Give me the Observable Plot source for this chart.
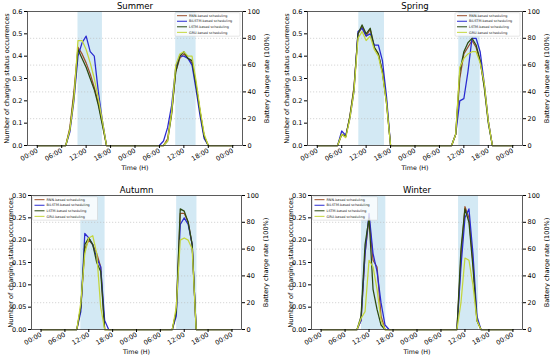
<!DOCTYPE html>
<html><head><meta charset="utf-8">
<script src="https://cdn.jsdelivr.net/npm/d3@7"></script>
<script src="https://cdn.jsdelivr.net/npm/@observablehq/plot@0.6"></script>
<style>
body{margin:0;background:#fff;}
#root{position:relative;width:550px;height:358px;overflow:hidden;font-family:"DejaVu Sans",sans-serif;}
.panel{position:absolute;width:275px;height:179px;}
</style></head><body><div id="root"></div>
<script>
const models = ["RNN-based scheduling","BiLSTM-based scheduling","LSTM-based scheduling","GRU-based scheduling"];
const colors = ["#9c4f2c","#2a2ad0","#2c4a10","#c4d63c"];
const hours = [0,1,2,3,4,5,6,7,8,9,10,11,12,13,14,15,16,17,18,19,20,21,22,23,24,25,26,27,28,29,30,31,32,33,34,35,36,37,38,39,40,41,42,43,44,45,46,47,48];
const xTicks = [0,6,12,18,24,30,36,42,48];
const xTickLabels = ["00:00","06:00","12:00","18:00","00:00","06:00","12:00","18:00","00:00"];
const rightTickLabels = [0,20,40,60,80,100];
const ticksSummerSpring = [0,0.1,0.2,0.3,0.4,0.5,0.6];
const ticksAutumnWinter = [0,0.05,0.1,0.15,0.2,0.25,0.3];

// Summer
const summerRNN    = [0,0,0,0,0,0,0,0, 0.08,0.24,0.44,0.41,0.37,0.32,0.26,0.19,0.10, 0,0,0,0,0,0,0,0,0,0,0,0,0,0,0, 0.03,0.15,0.33,0.39,0.41,0.39,0.37,0.27,0.15,0.04, 0,0,0,0,0,0,0];
const summerBiLSTM = [0,0,0,0,0,0,0,0, 0.06,0.20,0.40,0.46,0.49,0.42,0.40,0.24,0.11, 0,0,0,0,0,0,0,0,0,0,0,0,0,0, 0.02,0.08,0.18,0.35,0.40,0.40,0.39,0.36,0.25,0.13,0.03, 0,0,0,0,0,0,0];
const summerLSTM   = [0,0,0,0,0,0,0,0, 0.07,0.22,0.43,0.39,0.35,0.30,0.25,0.18,0.09, 0,0,0,0,0,0,0,0,0,0,0,0,0,0,0, 0.02,0.14,0.33,0.40,0.42,0.39,0.38,0.27,0.15,0.04, 0,0,0,0,0,0,0];
const summerGRU    = [0,0,0,0,0,0,0,0, 0.07,0.21,0.47,0.47,0.43,0.37,0.30,0.21,0.11, 0,0,0,0,0,0,0,0,0,0,0,0,0,0,0, 0.02,0.15,0.36,0.41,0.42,0.40,0.40,0.29,0.16,0.05, 0,0,0,0,0,0,0];
// Spring
const springRNN    = [0,0,0,0,0,0, 0.05,0.04,0.13,0.26,0.50,0.53,0.49,0.52,0.44,0.41,0.33,0.20, 0,0,0,0,0,0,0,0,0,0,0,0,0,0,0,0, 0.05,0.30,0.41,0.44,0.47,0.44,0.38,0.27,0.11, 0,0,0,0,0,0];
const springBiLSTM = [0,0,0,0,0,0, 0.065,0.045,0.12,0.24,0.51,0.525,0.49,0.50,0.45,0.45,0.38,0.22, 0,0,0,0,0,0,0,0,0,0,0,0,0,0,0,0, 0.05,0.20,0.21,0.33,0.48,0.48,0.42,0.28,0.11, 0,0,0,0,0,0];
const springLSTM   = [0,0,0,0,0,0, 0.05,0.04,0.13,0.25,0.50,0.54,0.50,0.525,0.44,0.41,0.33,0.19, 0,0,0,0,0,0,0,0,0,0,0,0,0,0,0,0, 0.05,0.33,0.42,0.46,0.48,0.45,0.38,0.26,0.10, 0,0,0,0,0,0];
const springGRU    = [0,0,0,0,0,0, 0.05,0.035,0.12,0.24,0.48,0.51,0.47,0.49,0.43,0.40,0.32,0.19, 0,0,0,0,0,0,0,0,0,0,0,0,0,0,0,0, 0.05,0.35,0.39,0.41,0.42,0.42,0.37,0.28,0.11, 0,0,0,0,0,0];
// Autumn
const autumnRNN    = [0,0,0,0,0,0,0,0,0,0, 0.05,0.18,0.20,0.19,0.17,0.14, 0,0,0,0,0,0,0,0,0,0,0,0,0,0,0,0,0,0, 0.04,0.26,0.26,0.24,0.19, 0,0,0,0,0,0,0,0,0,0];
const autumnBiLSTM = [0,0,0,0,0,0,0,0,0,0, 0.04,0.215,0.205,0.19,0.16,0.14,0.02, 0,0,0,0,0,0,0,0,0,0,0,0,0,0,0,0,0, 0.03,0.235,0.25,0.235,0.19, 0,0,0,0,0,0,0,0,0,0];
const autumnLSTM   = [0,0,0,0,0,0,0,0,0,0, 0.05,0.19,0.205,0.19,0.15,0.13, 0,0,0,0,0,0,0,0,0,0,0,0,0,0,0,0,0,0, 0.04,0.27,0.265,0.24,0.19, 0,0,0,0,0,0,0,0,0,0];
const autumnGRU    = [0,0,0,0,0,0,0,0,0,0, 0.06,0.17,0.205,0.21,0.17,0.05, 0,0,0,0,0,0,0,0,0,0,0,0,0,0,0,0,0,0, 0.05,0.20,0.205,0.20,0.18, 0,0,0,0,0,0,0,0,0,0];
// Winter
const winterRNN    = [0,0,0,0,0,0,0,0,0,0, 0.02,0.17,0.25,0.155,0.14,0.03, 0,0,0,0,0,0,0,0,0,0,0,0,0,0,0,0,0,0,0, 0.16,0.275,0.25,0.15,0.02, 0,0,0,0,0,0,0,0,0];
const winterBiLSTM = [0,0,0,0,0,0,0,0,0,0, 0.02,0.17,0.26,0.17,0.13,0.06,0.01, 0,0,0,0,0,0,0,0,0,0,0,0,0,0,0,0,0,0, 0.14,0.25,0.27,0.17,0.03, 0,0,0,0,0,0,0,0,0];
const winterLSTM   = [0,0,0,0,0,0,0,0,0,0, 0.03,0.19,0.25,0.09,0.045,0.01, 0,0,0,0,0,0,0,0,0,0,0,0,0,0,0,0,0,0,0, 0.18,0.27,0.24,0.14,0.02, 0,0,0,0,0,0,0,0,0];
const winterGRU    = [0,0,0,0,0,0,0,0,0,0, 0.025,0.04,0.155,0.14,0.09,0.02, 0,0,0,0,0,0,0,0,0,0,0,0,0,0,0,0,0,0,0, 0.06,0.16,0.155,0.10,0.02, 0,0,0,0,0,0,0,0,0];

// charging windows (hours)
const summerSpanStart = [10, 34],   summerSpanEnd = [16, 39];
const springSpanStart = [10.2, 34.75], springSpanEnd = [16.5, 40];
const autumnSpanStart = [10, 34.1], autumnSpanEnd = [16.1, 39.2];
const winterSpanStart = [10.1, 34.4], winterSpanEnd = [16.2, 39.4];

const panels = [
  {title:"Summer", series:[summerRNN,summerBiLSTM,summerLSTM,summerGRU], spanStart:summerSpanStart, spanEnd:summerSpanEnd,
   ymax:0.6, leftTicks:ticksSummerSpring, fmt:d3.format(".1f"), left:0, top:0, ml:27, mr:33, mt:11, mb:34, legend:"right"},
  {title:"Spring", series:[springRNN,springBiLSTM,springLSTM,springGRU], spanStart:springSpanStart, spanEnd:springSpanEnd,
   ymax:0.6, leftTicks:ticksSummerSpring, fmt:d3.format(".1f"), left:275, top:0, ml:32, mr:28, mt:11, mb:34, legend:"right"},
  {title:"Autumn", series:[autumnRNN,autumnBiLSTM,autumnLSTM,autumnGRU], spanStart:autumnSpanStart, spanEnd:autumnSpanEnd,
   ymax:0.3, leftTicks:ticksAutumnWinter, fmt:d3.format(".2f"), left:0, top:179, ml:31, mr:34, mt:16, mb:29, legend:"left"},
  {title:"Winter", series:[winterRNN,winterBiLSTM,winterLSTM,winterGRU], spanStart:winterSpanStart, spanEnd:winterSpanEnd,
   ymax:0.3, leftTicks:ticksAutumnWinter, fmt:d3.format(".2f"), left:275, top:179, ml:36, mr:28, mt:16, mb:29, legend:"left"}
];

function legendMark(side) {
  return (index, scales, values, dims) => {
    const w = 65, rowH = 5.55, h = 23.5;
    const x0 = side === "right" ? dims.width - dims.marginRight - w - 2 : dims.marginLeft + 1.5;
    const y0 = dims.marginTop + 1.7;
    const g = d3.create("svg:g");
    g.append("rect").attr("x", x0).attr("y", y0).attr("width", w).attr("height", h).attr("rx", 1)
      .attr("fill", "white").attr("fill-opacity", 0.8).attr("stroke", "#cccccc").attr("stroke-width", 0.5);
    models.forEach((m, i) => {
      const cy = y0 + 3 + rowH * i;
      g.append("line").attr("x1", x0 + 2).attr("x2", x0 + 12).attr("y1", cy).attr("y2", cy)
        .attr("stroke", colors[i]).attr("stroke-width", 1);
      g.append("text").attr("x", x0 + 14).attr("y", cy).attr("dy", "0.35em")
        .attr("text-anchor", "start").attr("font-size", 3.4).attr("fill", "#222").text(m);
    });
    return g.node();
  };
}

const root = document.getElementById("root");
for (const p of panels) {
  p.series.forEach(s => { if (s.length !== hours.length) throw new Error(p.title + " length " + s.length); });
  const rows = [];
  p.series.forEach((arr, i) => arr.forEach((v, h) => rows.push({hour: hours[h], value: v, model: models[i]})));
  const spans = p.spanStart.map((s, i) => ({start: s, end: p.spanEnd[i]}));
  const rightVals = rightTickLabels.map(r => r / 100 * p.ymax);
  const grid = rightVals.slice(1, -1);
  const chart = Plot.plot({
    width: 275, height: 179,
    marginLeft: p.ml, marginRight: p.mr, marginTop: p.mt, marginBottom: p.mb,
    style: {fontFamily: "'DejaVu Sans', sans-serif", fontSize: "6.5px", background: "transparent", overflow: "visible"},
    x: {domain: [-2.4, 50.4]},
    y: {domain: [0, p.ymax]},
    color: {domain: models, range: colors},
    marks: [
      Plot.rect(spans, {x1: "start", x2: "end", fill: "#d3e9f4"}),
      Plot.ruleY(grid, {stroke: "#bbbbbb", strokeWidth: 0.6, strokeDasharray: "1.2,1.8"}),
      Plot.line(rows, {x: "hour", y: "value", z: "model", stroke: "model", strokeWidth: 1.25}),
      Plot.frame({stroke: "#333", strokeWidth: 0.8}),
      Plot.axisX({ticks: xTicks, tickFormat: d => xTickLabels[xTicks.indexOf(d)], tickRotate: -30, tickSize: 3, tickPadding: 1.5, label: null}),
      Plot.axisY({ticks: p.leftTicks, tickFormat: p.fmt, tickSize: 3, tickPadding: 2, label: null}),
      Plot.axisY({anchor: "right", ticks: rightVals, tickFormat: d => String(rightTickLabels[rightVals.indexOf(d)]), tickSize: 3, tickPadding: 2, label: null}),
      Plot.text([p.title], {text: d => d, frameAnchor: "top", dy: -3, lineAnchor: "bottom", fontSize: 8.5}),
      Plot.text(["Time (H)"], {text: d => d, frameAnchor: "bottom", dy: 24, fontSize: 6.3}),
      Plot.text(["Number of charging status occurrences"], {text: d => d, frameAnchor: "left", textAnchor: "middle", rotate: -90, dx: -21, fontSize: 6.6}),
      Plot.text(["Battery charge rate (100%)"], {text: d => d, frameAnchor: "right", textAnchor: "middle", rotate: -90, dx: 24, fontSize: 6.5}),
      legendMark(p.legend)
    ]
  });
  const div = document.createElement("div");
  div.className = "panel";
  div.style.left = p.left + "px";
  div.style.top = p.top + "px";
  div.appendChild(chart);
  root.appendChild(div);
}
</script>
</body></html>
